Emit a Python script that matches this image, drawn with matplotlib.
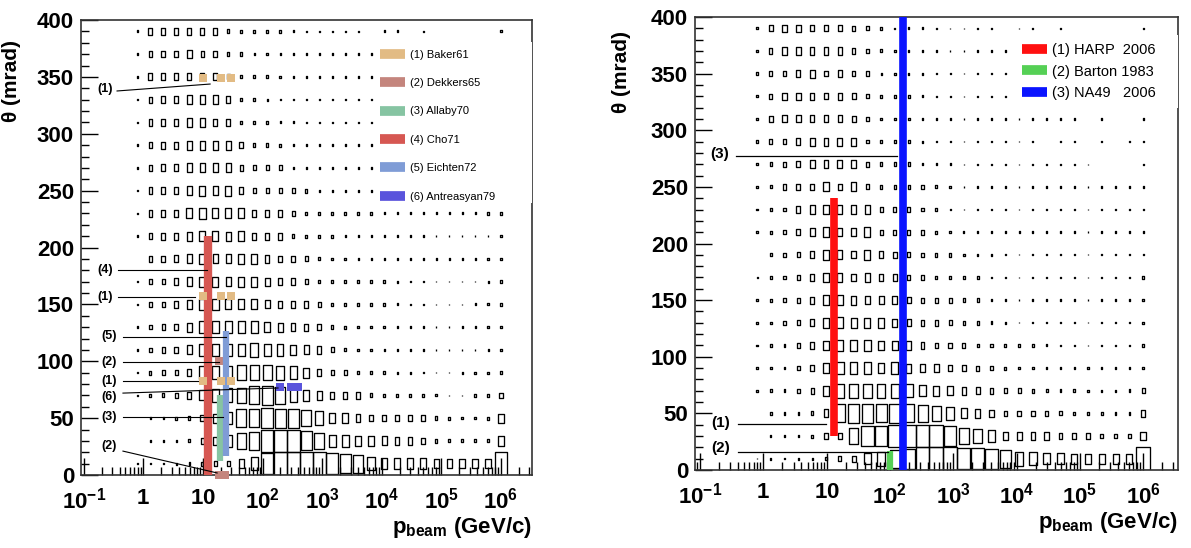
import numpy as np
import matplotlib
matplotlib.use("Agg")
import matplotlib.pyplot as plt
from matplotlib.patches import Rectangle
from matplotlib.collections import PatchCollection
from matplotlib.lines import Line2D
from matplotlib.ticker import LogLocator, MultipleLocator, FixedLocator, FixedFormatter, NullFormatter

plt.rcParams['font.family'] = ['Liberation Sans', 'DejaVu Sans']
plt.rcParams['mathtext.fontset'] = 'custom'
plt.rcParams['mathtext.rm'] = 'Liberation Sans:bold'
plt.rcParams['mathtext.bf'] = 'Liberation Sans:bold'

# binning of the box histograms: log10(p) from -0.1 to 6.0, theta 0..400 mrad
p_centers = np.logspace(-0.1, 6.0, 29)
theta_centers = [390, 370, 350, 330, 310, 290, 270, 250, 230, 210,
                 190, 170, 150, 130, 110, 90, 70, 50, 30, 10]

# relative box size (10 = full bin), rows top (390 mrad) to bottom (10 mrad)
left_boxes = [
    [0.7,2.8,2.8,2.8,2.8,2.8,2.8,1.5,1.2,1.2,1.2,1.0,0.7,0.6,0.6,0.6,0.6,0.6,0,0.7,0.7,0,0.6,0,0,0,0,0,0.7],
    [0.7,2.5,2.5,2.5,3.2,2.3,2.5,1.5,1.5,1.0,1.0,0.8,0.7,0.7,0.7,0.6,0.6,0.6,0.6,0,0,0,0,0,0,0,0,0,0],
    [0.7,2.8,2.8,2.8,2.8,2.8,2.8,2.0,1.2,1.2,1.2,1.0,0.7,0.6,0.6,0.6,0.6,0.6,0.7,0,0,0,0,0,0,0,0,0,0],
    [0.6,2.3,2.5,2.8,3.5,3.5,3.5,2.5,1.3,1.2,0.8,0.6,0.6,0.6,0.6,0.6,0.6,0.6,0.6,0,0,0,0,0,0,0,0,0,0],
    [0.6,2.5,2.8,2.8,3.5,3.5,3.0,3.0,1.2,1.2,1.2,0.8,0.7,0.6,0.6,0.6,0.6,0.6,0.6,0,0,0,0,0,0,0,0,0,0],
    [0.6,2.5,2.8,2.8,3.5,3.5,3.5,3.5,2.5,1.3,1.3,1.2,0.7,0.6,0.6,0.7,0.7,0.7,0.7,0,0,0,0,0,0,0,0,0,0],
    [0.6,2.5,2.8,2.8,3.5,3.5,3.5,3.5,2.2,2.0,2.0,2.0,0.7,0.7,0.7,0.7,0.7,0.7,0.7,0,0,0,0,0,0,0,0,0,0],
    [0.6,2.5,2.8,2.8,3.5,4.0,3.5,4.0,2.8,2.2,2.2,2.2,2.2,1.5,0.8,0.7,0.7,0.7,0.7,0,0,0,0,0,0,0,0,0,0],
    [0.6,2.5,2.8,2.8,4.0,4.5,4.0,4.0,4.0,2.5,2.5,2.5,2.2,1.2,1.2,1.2,1.2,1.2,1.0,0.7,0.7,0.7,0.7,0.7,0.7,0.7,0.7,1.0,1.0],
    [0.6,2.5,2.8,2.8,3.5,4.0,4.0,3.5,4.0,2.8,2.8,2.8,1.5,1.2,1.2,1.2,0.8,0.7,0.7,0.6,0.6,0.6,0.6,0.6,0.6,0.6,0.6,0.6,0.7],
    [0,2.5,2.5,2.8,3.5,4.0,3.5,3.5,4.0,4.0,3.0,2.5,2.5,2.0,1.2,1.0,1.0,0.8,0.8,0.8,0.8,0.7,0.7,0.7,0.7,0.7,0.7,0.8,0.8],
    [0.5,2.0,2.2,2.5,3.5,4.0,4.0,3.5,4.0,4.0,3.2,2.5,2.5,2.2,1.2,1.0,1.0,1.0,0.9,0.9,0.7,0.6,0.6,0.6,0.6,0.6,0.6,0.7,1.0],
    [0.5,2.0,2.2,2.5,3.5,4.5,4.5,4.0,4.0,4.0,3.2,3.0,2.5,2.5,2.0,1.2,1.2,1.0,1.0,0.9,0.8,0.6,0.6,0.6,0.6,0.6,0.7,0.8,1.0],
    [0.5,1.8,2.2,2.5,3.5,4.5,4.5,4.5,4.5,5.0,4.0,3.5,3.0,2.8,2.5,1.5,1.2,1.0,1.0,0.9,0.8,0.6,0.6,0.6,0.6,0.7,0.7,0.8,1.0],
    [0.5,1.8,2.2,2.5,3.5,5.0,5.0,5.0,5.0,5.5,5.0,4.5,4.0,3.5,3.0,2.0,1.2,1.0,1.0,0.8,0.7,0.6,0.6,0.6,0.6,0.6,0.6,0.7,1.0],
    [0.5,1.5,1.8,2.0,3.0,5.0,5.0,5.5,6.0,6.0,6.0,5.5,5.0,4.0,3.0,2.2,2.0,1.2,1.0,1.0,0.8,0.7,0.6,0.6,0.6,0.7,0.8,0.8,1.0],
    [0.5,1.2,1.5,1.8,2.5,4.0,5.0,5.5,6.0,7.0,7.5,6.5,5.0,4.5,3.5,3.0,2.5,2.5,1.5,1.2,1.2,1.2,1.2,0.8,0.6,0.6,1.0,1.0,2.2],
    [0,0.8,1.0,1.2,1.5,2.5,3.5,5.0,7.0,7.0,8.0,7.5,7.5,6.5,5.5,4.0,4.0,3.0,2.5,2.5,2.5,2.2,2.2,1.5,1.2,1.0,1.0,1.2,3.5],
    [0,0.8,0.8,1.0,1.2,2.2,3.0,4.5,6.0,7.0,8.5,9.0,9.0,7.5,6.5,5.0,5.0,4.0,4.0,3.5,3.0,3.0,2.5,1.5,1.2,1.2,1.2,1.2,4.0],
    [0.5,0.6,0.6,0.8,1.0,1.5,1.8,2.2,3.5,5.0,8.0,9.0,10,9.0,9.0,8.0,7.5,7.0,5.0,4.5,4.5,4.5,4.5,3.5,3.5,3.5,3.5,3.5,10],
]

right_boxes = [
    [0.7,2.5,2.8,2.8,2.5,2.5,2.5,2.0,1.5,1.0,0.6,0.8,0.7,0.5,0.5,0.5,0.5,0.5,0,0.5,0.5,0,0.5,0,0,0,0,0,0.5],
    [0.7,2.0,2.8,2.8,2.8,2.8,2.8,2.0,1.5,1.2,1.0,0.8,0.6,0.6,0.5,0.5,0.5,0.5,0.5,0,0,0,0,0,0,0,0,0,0],
    [1.0,2.0,2.2,2.5,3.2,2.2,2.8,2.2,2.0,0.8,0.8,0.8,0.7,0.6,0.6,0.5,0.5,0.5,0.5,0,0,0,0,0,0,0,0,0,0],
    [0.7,2.0,2.8,2.8,2.8,2.5,2.8,2.5,1.5,1.0,1.0,1.0,0.7,0.6,0.6,0.5,0.5,0.5,0.5,0,0,0,0,0,0,0,0,0,0],
    [0.7,2.2,2.8,2.8,2.8,2.8,2.8,2.5,1.5,1.0,1.0,1.0,1.0,0.6,0.6,0.5,0.5,0.5,0.5,0.5,0.5,0.5,0.5,0.5,0,0.5,0,0,0.5],
    [1.0,2.0,2.2,2.5,3.2,3.2,3.2,3.2,1.5,1.0,1.0,1.0,0.8,0.6,0.6,0.5,0.5,0.5,0.5,0.5,0.5,0,0.5,0.6,0,0.6,0,0.6,0.6],
    [0.7,1.5,2.0,2.5,3.2,3.2,3.2,3.2,2.0,1.5,1.5,1.5,0.8,0.6,0.6,0.5,0.5,0.5,0.5,0.5,0.5,0.5,0.5,0.5,0.5,0,0,0,0.5],
    [0.7,1.2,2.2,2.5,2.5,3.5,2.5,3.5,2.0,1.5,1.5,1.5,1.5,1.2,1.0,0.5,0.5,0.5,0.5,0.5,0.5,0.5,0.5,0.5,0.5,0.5,0.5,0.5,0.5],
    [0.7,1.2,1.5,2.5,3.2,3.8,3.2,3.2,3.2,2.0,2.0,2.0,1.5,1.2,0.7,0.5,0.5,0.5,0.5,0.5,0.5,0.5,0.5,0.5,0.5,0.5,0.5,0.5,0.5],
    [1.0,1.2,1.5,2.5,3.2,4.0,3.2,3.2,3.8,2.0,2.0,2.0,2.0,1.2,0.8,0.6,0.6,0.6,0.6,0.6,0.6,0.6,0.6,0.6,0.6,0.6,0.6,0.6,0.6],
    [0,1.2,1.5,2.0,2.8,4.0,3.5,2.8,3.8,2.8,2.2,2.0,1.8,1.5,1.5,0.8,0.8,0.6,0.5,0.5,0.5,0.5,0.5,0.5,0.5,0.5,0.5,0.5,0.5],
    [0.6,1.0,1.5,2.0,2.8,3.8,3.5,2.8,3.5,2.8,2.5,2.0,2.0,1.5,1.5,1.2,1.5,0.6,0.5,0.5,0.5,0.5,0.5,0.5,0.5,0.5,0.5,0.5,1.0],
    [0.8,1.2,1.5,2.0,2.8,3.8,4.0,3.5,3.2,3.2,3.2,2.5,2.0,2.0,2.0,1.5,1.5,1.0,0.6,0.5,0.5,0.5,0.5,0.5,0.5,0.5,0.5,0.5,1.0],
    [0.7,1.0,1.5,2.0,2.8,3.8,4.5,3.8,3.8,3.8,3.2,2.8,2.2,2.2,2.0,1.5,1.5,1.2,0.6,0.5,0.5,0.5,0.5,0.5,0.5,0.5,0.5,0.5,1.0],
    [0.7,1.0,1.0,2.0,2.5,3.8,4.5,4.2,4.2,3.8,3.8,3.5,2.5,2.2,2.2,2.0,1.5,1.5,1.2,1.0,1.0,0.8,0.6,0.5,0.5,0.5,0.5,0.5,1.2],
    [0.8,1.0,1.0,1.5,2.5,3.8,5.0,4.5,4.5,3.8,4.5,3.5,3.0,3.0,2.5,2.2,2.0,1.5,1.2,1.0,1.0,0.8,0.8,0.8,0.8,0.7,0.7,0.8,1.0],
    [0.8,1.0,1.0,1.5,2.2,3.8,5.5,5.5,5.5,5.5,5.5,5.0,4.2,3.8,3.5,3.0,2.8,2.2,2.0,2.0,1.5,1.2,1.0,1.0,0.8,0.8,0.7,1.0,2.0],
    [0,1.0,1.0,1.0,1.5,3.2,7.0,7.5,7.5,7.0,7.5,7.0,6.5,6.0,5.0,4.0,3.5,2.8,2.2,2.2,2.2,2.0,1.5,1.2,1.2,1.2,1.0,1.0,2.5],
    [0,0.8,0.8,1.0,1.2,2.0,2.5,6.0,8.0,8.0,8.5,9.5,9.5,9.0,8.0,6.5,5.5,4.5,3.5,3.2,2.8,2.8,2.5,2.5,2.2,1.8,1.8,1.8,3.5],
    [0.5,0.8,0.6,0.8,0.8,1.2,1.8,2.5,4.5,5.5,7.0,8.0,10,10,9.0,8.5,8.5,8.0,7.0,5.5,5.0,4.5,4.5,4.0,4.0,4.0,4.0,4.0,10],
]

# left panel measurements
baker_p = [10, 20, 30]
baker_theta = [83, 157, 349]
dekkers_p = [18.8, 23.1]
dekkers_theta = [0, 100]
allaby_p, allaby_range = 19.2, (12, 70)
cho_p, cho_range = 12.4, (0, 210)
eichten_p, eichten_range = 24.0, (17, 127)
antreasyan_p = [200, 300, 400]
antreasyan_theta = 77

# right panel measurements
harp_p, harp_range = 12.9, (30, 240)
barton_p, barton_range = 100, (0, 17)
na49_p, na49_range = 158, (0, 400)

c_baker = '#e2bb84'
c_dekkers = '#c4857d'
c_allaby = '#86c4a2'
c_cho = '#d65752'
c_eichten = '#7f9cd6'
c_antr = '#5a54dc'

W = 1191
H = 548
fig = plt.figure(figsize=(W / 100, H / 100), dpi=100)
ax1 = fig.add_axes([81 / W, (H - 475) / H, 451 / W, 455 / H])
ax2 = fig.add_axes([695 / W, (H - 470) / H, 483 / W, 453 / H])

dlog = 6.1 / 28
box_scale = 1.12  # boxes look a bit fuller in the original rendering


def draw_boxes(ax, boxes):
    rects = []
    for i, th in enumerate(theta_centers):
        for j, p in enumerate(p_centers):
            f = min(boxes[i][j] * box_scale / 10.0, 1.0)
            if f <= 0:
                continue
            lc = np.log10(p)
            x0 = 10 ** (lc - f * dlog / 2)
            x1 = 10 ** (lc + f * dlog / 2)
            rects.append(Rectangle((x0, th - f * 10), x1 - x0, f * 20))
    pc = PatchCollection(rects, facecolor='none', edgecolor='black', linewidth=0.95, zorder=2)
    ax.add_collection(pc)


def style_axes(ax, xlim, label_top):
    ax.set_xscale('log')
    ax.set_xlim(*xlim)
    ax.set_ylim(0, 400)
    ax.xaxis.set_major_locator(FixedLocator([1e-1, 1, 10, 1e2, 1e3, 1e4, 1e5, 1e6]))
    ax.xaxis.set_major_formatter(FixedFormatter([r'$10^{-1}$', r'$1$', r'$10$', r'$10^{2}$',
                                                 r'$10^{3}$', r'$10^{4}$', r'$10^{5}$', r'$10^{6}$']))
    ax.xaxis.set_minor_locator(LogLocator(base=10, subs=np.arange(2, 10), numticks=30))
    ax.xaxis.set_minor_formatter(NullFormatter())
    ax.yaxis.set_major_locator(MultipleLocator(50))
    ax.yaxis.set_minor_locator(MultipleLocator(10))
    ax.tick_params(which='both', direction='in', top=False, right=False)
    ax.tick_params(which='major', length=12, width=1.0, labelsize=16)
    ax.tick_params(axis='x', which='major', pad=9)
    ax.tick_params(axis='y', which='major', pad=5)
    ax.tick_params(which='minor', length=6, width=1.0)
    for lbl in ax.get_yticklabels():
        lbl.set_fontweight('bold')
    for s in ax.spines.values():
        s.set_linewidth(1.2)
        s.set_color('#333333')
    ax.set_ylabel('θ (mrad)', fontsize=15, fontweight='bold', loc='top')
    ax.yaxis.set_label_coords(-0.133, label_top)
    ax.set_xlabel(r'$\mathrm{p}_{\mathrm{beam}}$ (GeV/c)', fontsize=16, fontweight='bold', loc='right', labelpad=1)


# ---------------- left panel ----------------
draw_boxes(ax1, left_boxes)
style_axes(ax1, (10 ** -1.045, 10 ** 6.52), 0.955)

ax1.vlines(cho_p, *cho_range, color=c_cho, linewidth=6, capstyle='butt', zorder=3)
ax1.vlines(allaby_p, *allaby_range, color=c_allaby, linewidth=4.5, capstyle='butt', zorder=3)
ax1.vlines(eichten_p, *eichten_range, color=c_eichten, linewidth=4.5, capstyle='butt', zorder=3)
for th in baker_theta:
    ax1.plot(baker_p, [th] * len(baker_p), 's', color=c_baker, markersize=6, markeredgewidth=0, zorder=3)
for th in dekkers_theta:
    ax1.plot(dekkers_p, [th] * len(dekkers_p), 's', color=c_dekkers, markersize=5.5, markeredgewidth=0,
             zorder=2.9, clip_on=False)
ax1.plot(antreasyan_p, [antreasyan_theta] * 3, 's', color=c_antr, markersize=5.5, markeredgewidth=0, zorder=3)

# label lines
ann_left = [
    ('(1)', (0.229, 339), (0.363, 337.6), (13.2, 343.7)),
    ('(4)', (0.229, 180), (0.376, 180), (11.7, 180)),
    ('(1)', (0.229, 156.5), (0.376, 156.5), (7.4, 156.5)),
    ('(5)', (0.27, 122), (0.456, 121.5), (24.4, 121.5)),
    ('(2)', (0.27, 99.3), (0.456, 99.3), (18.6, 99.3)),
    ('(1)', (0.27, 82.6), (0.456, 82.6), (8.3, 82.6)),
    ('(6)', (0.27, 68.6), (0.456, 72), (182, 76.5)),
    ('(3)', (0.27, 51), (0.456, 51), (21.7, 51)),
    ('(2)', (0.27, 25.5), (0.456, 21), (17.3, 1.8)),
]
for txt, tpos, a, b in ann_left:
    ax1.text(*tpos, txt, fontsize=9, fontweight='bold', ha='center', va='center', zorder=4)
    ax1.plot([a[0], b[0]], [a[1], b[1]], color='black', linewidth=0.8, zorder=4)

ax1.add_patch(Rectangle((0.656, 0.598), 0.344, 0.354, transform=ax1.transAxes,
                        facecolor='white', edgecolor='none', zorder=4))
h1 = [Line2D([], [], color=c, linewidth=7, solid_capstyle='butt')
      for c in [c_baker, c_dekkers, c_allaby, c_cho, c_eichten, c_antr]]
ax1.legend(h1, ['(1) Baker61', '(2) Dekkers65', '(3) Allaby70', '(4) Cho71', '(5) Eichten72',
                '(6) Antreasyan79'],
           loc='upper left', bbox_to_anchor=(0.663, 0.935), frameon=False, fontsize=8,
           handlelength=2.25, handletextpad=0.45, labelspacing=1.66, borderpad=0, borderaxespad=0)

# ---------------- right panel ----------------
draw_boxes(ax2, right_boxes)
style_axes(ax2, (10 ** -1.08, 10 ** 6.55), 0.97)

ax2.vlines(harp_p, *harp_range, color='#ff1010', linewidth=5.5, capstyle='butt', zorder=3)
ax2.vlines(barton_p, *barton_range, color='#55d055', linewidth=4.5, capstyle='butt', zorder=3)
ax2.vlines(na49_p, *na49_range, color='#0a14ff', linewidth=5.5, capstyle='butt', zorder=3)

ann_right = [
    ('(3)', (0.207, 279), (0.37, 277), (128, 277)),
    ('(1)', (0.215, 41.5), (0.398, 40.6), (9.7, 40.6)),
    ('(2)', (0.215, 19.4), (0.398, 15.9), (93, 15.9)),
]
for txt, tpos, a, b in ann_right:
    ax2.text(*tpos, txt, fontsize=11, fontweight='bold', ha='center', va='center', zorder=4)
    ax2.plot([a[0], b[0]], [a[1], b[1]], color='black', linewidth=0.9, zorder=4)

ax2.add_patch(Rectangle((0.656, 0.799), 0.344, 0.161, transform=ax2.transAxes,
                        facecolor='white', edgecolor='none', zorder=4))
h2 = [Line2D([], [], color=c, linewidth=7, solid_capstyle='butt')
      for c in ['#ff1010', '#55d055', '#0a14ff']]
ax2.legend(h2, ['(1) HARP  2006', '(2) Barton 1983', '(3) NA49   2006'],
           loc='upper left', bbox_to_anchor=(0.677, 0.942), frameon=False, fontsize=10.5,
           handlelength=1.7, handletextpad=0.35, labelspacing=0.5, borderpad=0, borderaxespad=0)

fig.savefig('out.png', dpi=100)
